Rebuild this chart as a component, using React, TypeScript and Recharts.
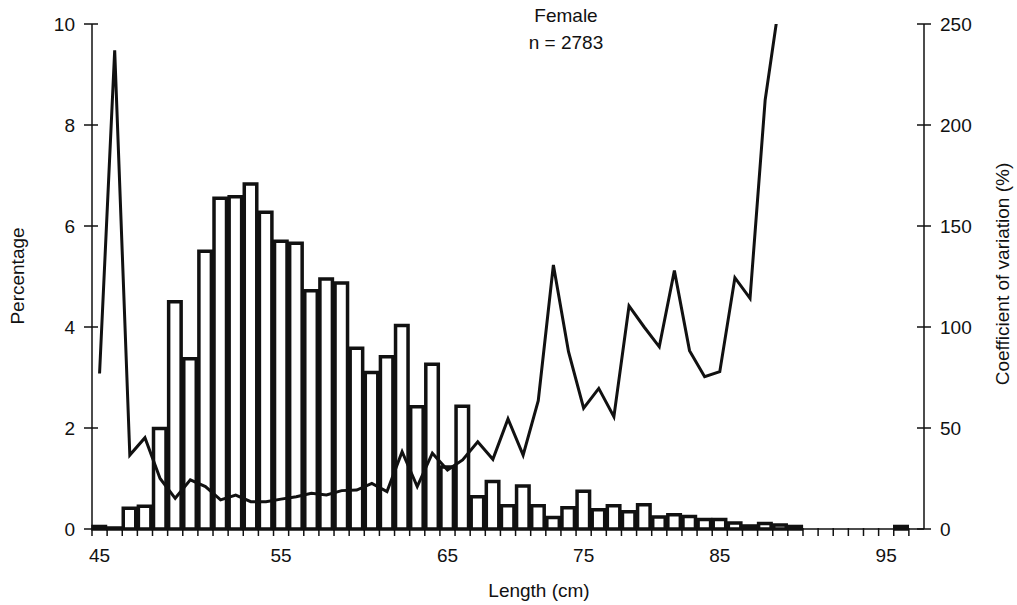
import { ComposedChart, Bar, Line, XAxis, YAxis, Label } from 'recharts';

// length classes (cm), one per bar slot
const lengths = [
  45, 46, 47, 48, 49, 50, 51, 52, 53, 54,
  55, 56, 57, 58, 59, 60, 61, 62, 63, 64,
  65, 66, 67, 68, 69, 70, 71, 72, 73, 74,
  75, 76, 77, 78, 79, 80, 81, 82, 83, 84,
  85, 86, 87, 88, 89, 90, 91, 92, 93, 94,
  95, 96, 97, 98, 99,
];

// text printed under each slot, as it sits in the figure
const xTickText = [
  '45', '', '', '', '', '', '', '', '', '',
  '', '', '55', '', '', '', '', '', '', '',
  '', '', '', '65', '', '', '', '', '', '',
  '', '', '75', '', '', '', '', '', '', '',
  '', '85', '', '', '', '', '', '', '', '',
  '', '', '95', '', '',
];

// percentage of fish in each length class
const percentage = [
  0.05, 0.02, 0.41, 0.45, 1.99, 4.5, 3.37, 5.5, 6.55, 6.58,
  6.83, 6.27, 5.7, 5.66, 4.72, 4.95, 4.87, 3.58, 3.1, 3.41,
  4.03, 2.42, 3.26, 1.23, 2.43, 0.64, 0.94, 0.46, 0.85, 0.46,
  0.23, 0.42, 0.75, 0.38, 0.46, 0.34, 0.48, 0.24, 0.28, 0.25,
  0.19, 0.19, 0.12, 0.06, 0.11, 0.08, 0.05, null, null, null,
  null, null, null, 0.05, null,
];

// coefficient of variation (%)
const cv = [
  77, 237, 36.6, 45.2, 25, 15.2, 24.3, 21, 14.4, 16.8,
  13.5, 13.5, 14.8, 16, 17.7, 16.8, 19, 19.3, 22.6, 18.5,
  38.3, 21, 37.5, 29.2, 34.2, 43.2, 34.5, 54.5, 36.6, 63.5,
  130.7, 87.8, 59.8, 69.6, 55.6, 110.4, 100, 90.2, 127.9, 88.3,
  75.4, 77.9, 124.4, 114.2, 212.4, 264, null, null, null, null,
  null, null, null, null, null,
];

const pctTicks = [0, 2, 4, 6, 8, 10];
const cvTicks = [0, 50, 100, 150, 200, 250];

const rows = lengths.map((len, i) => ({ len, pct: percentage[i], cv: cv[i] }));

const FONT = '"Liberation Sans", Arial, Helvetica, sans-serif';
const INK = '#111';
const W = 1017;
const H = 605;
const PLOT_W = 832;
const BAND = PLOT_W / lengths.length;

const XTick = ({ x, y, payload }: any) => {
  const i = lengths.indexOf(payload.value);
  const bx = x - BAND / 2;
  return (
    <g>
      <line x1={bx} x2={bx} y1={y - 1} y2={y + 7} stroke={INK} strokeWidth={1.5} />
      {xTickText[i] ? (
        <text x={x} y={y + 33} textAnchor="middle" fontFamily={FONT} fontSize={19} fill={INK}>
          {xTickText[i]}
        </text>
      ) : null}
    </g>
  );
};

const LeftTick = ({ x, y, payload }: any) => (
  <g>
    <line x1={x - 8} x2={x + 6} y1={y} y2={y} stroke={INK} strokeWidth={1.5} />
    <text x={x - 17} y={y + 7} textAnchor="end" fontFamily={FONT} fontSize={19} fill={INK}>
      {payload.value}
    </text>
  </g>
);

const RightTick = ({ x, y, payload }: any) => (
  <g>
    <line x1={x - 7} x2={x + 7} y1={y} y2={y} stroke={INK} strokeWidth={1.5} />
    <text x={x + 16} y={y + 7} textAnchor="start" fontFamily={FONT} fontSize={19} fill={INK}>
      {payload.value}
    </text>
  </g>
);

export default function App() {
  return (
    <div style={{ position: 'absolute', left: 0, top: 0, width: W, height: H, background: '#fff' }}>
      <ComposedChart
        width={W}
        height={H}
        data={rows}
        margin={{ top: 24, right: 0, bottom: 0, left: 0 }}
        barCategoryGap={0}
      >
        <XAxis
          dataKey="len"
          height={76}
          interval={0}
          tick={<XTick />}
          tickLine={false}
          tickSize={0}
          tickMargin={0}
          axisLine={{ stroke: INK, strokeWidth: 1.5 }}
        >
          <Label
            content={() => (
              <text x={539} y={597} textAnchor="middle" fontFamily={FONT} fontSize={19} fill={INK}>
                Length (cm)
              </text>
            )}
          />
        </XAxis>
        <YAxis
          yAxisId="pct"
          width={92}
          domain={[0, 10]}
          ticks={pctTicks}
          tick={<LeftTick />}
          tickLine={false}
          tickSize={0}
          tickMargin={0}
          axisLine={{ stroke: INK, strokeWidth: 1.5 }}
        >
          <Label
            content={() => (
              <text
                x={24}
                y={276}
                transform="rotate(-90, 24, 276)"
                textAnchor="middle"
                fontFamily={FONT}
                fontSize={19}
                fill={INK}
              >
                Percentage
              </text>
            )}
          />
        </YAxis>
        <YAxis
          yAxisId="cv"
          orientation="right"
          width={93}
          domain={[0, 250]}
          ticks={cvTicks}
          allowDataOverflow
          tick={<RightTick />}
          tickLine={false}
          tickSize={0}
          tickMargin={0}
          axisLine={{ stroke: INK, strokeWidth: 1.5 }}
        >
          <Label
            content={() => (
              <text
                x={1009}
                y={274}
                transform="rotate(-90, 1009, 274)"
                textAnchor="middle"
                fontFamily={FONT}
                fontSize={19}
                fill={INK}
              >
                Coefficient of variation (%)
              </text>
            )}
          />
        </YAxis>
        <Bar
          yAxisId="pct"
          dataKey="pct"
          barSize={12.5}
          fill="#fff"
          stroke={INK}
          strokeWidth={3.5}
          isAnimationActive={false}
        />
        <Line
          yAxisId="cv"
          dataKey="cv"
          type="linear"
          stroke={INK}
          strokeWidth={3}
          dot={false}
          activeDot={false}
          isAnimationActive={false}
        />
      </ComposedChart>
      <div
        style={{
          position: 'absolute',
          left: 466,
          top: 2,
          width: 200,
          textAlign: 'center',
          fontFamily: FONT,
          fontSize: 19,
          lineHeight: '27px',
          color: INK,
        }}
      >
        <div>Female</div>
        <div>n = 2783</div>
      </div>
    </div>
  );
}
